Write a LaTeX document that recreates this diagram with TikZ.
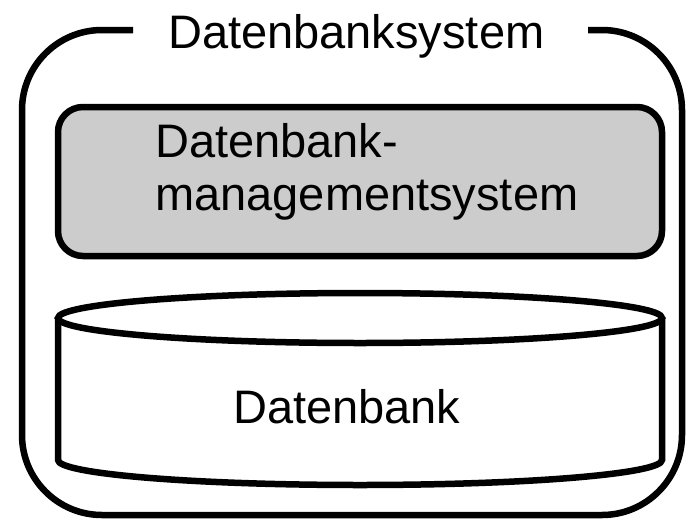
\documentclass[tikz,border=0pt]{standalone}
\usepackage{fontspec}
\setmainfont{Liberation Sans}
\begin{document}
\begin{tikzpicture}[x=1pt,y=-1pt,
  thickline/.style={line width=6.5pt,black},
  bigtext/.style={font=\fontsize{47}{53}\selectfont,inner sep=0pt,anchor=base west},
]
\useasboundingbox (0,0) rectangle (686,520);
% outer system frame with gap for title
\draw[thickline,rounded corners=80pt] (133,30) -- (22,30) -- (22,515) -- (682,515) -- (682,30) -- (588,30);
\node[bigtext] (title) at (168,48) {Datenbanksystem};
% DBMS box
\draw[thickline,fill=black!20,rounded corners=25pt] (58,107) rectangle (662,256);
\node[bigtext,align=left] (dbms) at (155,210) {Datenbank-\\managementsystem};
% cylinder
\draw[thickline,fill=white,line join=miter] (58,318) -- (58,460) arc[start angle=180,end angle=0,x radius=302,y radius=25] -- (662,318);
\draw[thickline,fill=white] (360,318) ellipse[x radius=302,y radius=25];
\node[bigtext] (db) at (233,423) {Datenbank};
\end{tikzpicture}
\end{document}
